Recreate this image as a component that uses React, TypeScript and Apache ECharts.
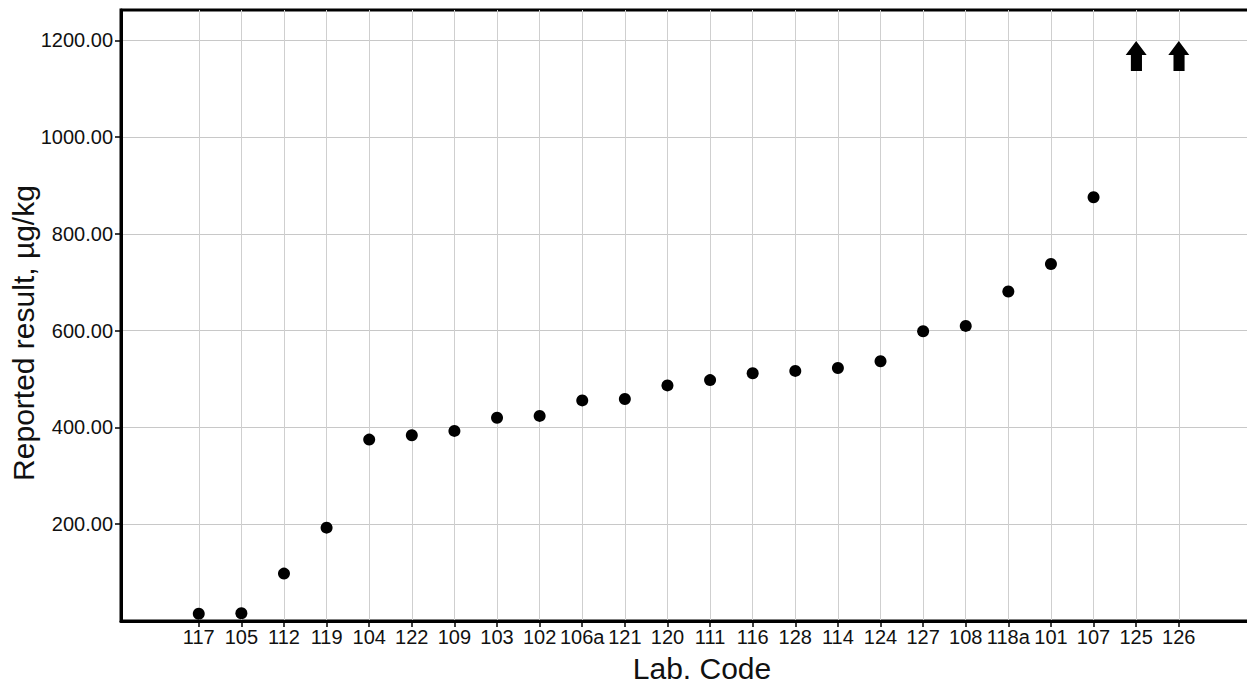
import React, { useEffect, useRef } from 'react';
import * as echarts from 'echarts';

const labCodes = ['117', '105', '112', '119', '104', '122', '109', '103', '102', '106a', '121', '120', '111', '116', '128', '114', '124', '127', '108', '118a', '101', '107', '125', '126'];
const reported: (number | null)[] = [15, 16, 98, 193, 375, 384, 393, 420, 424, 456, 459, 487, 498, 512, 517, 523, 537, 599, 610, 681, 738, 876, null, null];
const aboveRangeCodes = ['125', '126'];
const aboveRangeMarkerLevel = 1168;
const yTicks = [200, 400, 600, 800, 1000, 1200];
const yMin = 0;
const yMax = 1263;
const xMin = -1.825;
const xMax = 25;
const xTitle = 'Lab. Code';
const yTitle = 'Reported result, µg/kg';

const ARROW = 'path://M10,0 L20.5,14 L15.8,14 L15.8,30 L4.7,30 L4.7,14 L-0.5,14 Z';

export default function App() {
  const ref = useRef<HTMLDivElement>(null);
  useEffect(() => {
    if (!ref.current) return;
    const chart = echarts.init(ref.current, undefined, { renderer: 'svg' });
    const xIdx = labCodes.map((_, i) => i);
    const points = reported
      .map((v, i) => (v == null ? null : [i, v]))
      .filter((d) => d != null);
    const arrows = aboveRangeCodes.map((c) => [labCodes.indexOf(c), aboveRangeMarkerLevel]);
    const font = '"Liberation Sans", Arial, sans-serif';
    chart.setOption({
      animation: false,
      backgroundColor: '#fff',
      grid: {
        left: 121,
        right: 6,
        top: 10,
        bottom: 63,
        containLabel: false,
        outerBoundsMode: 'none',
        show: true,
        borderColor: '#000',
        borderWidth: 3,
        backgroundColor: 'transparent',
      },
      graphic: [
        {
          type: 'text',
          x: 702,
          y: 668,
          style: { text: xTitle, fontSize: 30, fontFamily: font, fill: '#111', align: 'center', verticalAlign: 'middle' },
        },
        {
          type: 'text',
          x: 23,
          y: 333,
          rotation: Math.PI / 2,
          style: { text: yTitle, fontSize: 30, fontFamily: font, fill: '#111', align: 'center', verticalAlign: 'middle' },
        },
      ],
      xAxis: {
        type: 'value',
        min: xMin,
        max: xMax,
        axisLine: { show: true, onZero: false, lineStyle: { color: '#000', width: 3 } },
        axisTick: { show: true, customValues: xIdx, length: 6, lineStyle: { color: '#000', width: 1.5 } },
        axisLabel: {
          customValues: xIdx,
          formatter: (v: number) => labCodes[Math.round(v)] ?? '',
          fontSize: 20,
          color: '#111',
          fontFamily: font,
          margin: 6,
        },
        splitLine: { show: true, lineStyle: { color: '#cfcfcf', width: 1 } },
      },
      yAxis: {
        type: 'value',
        min: yMin,
        max: yMax,
        axisLine: { show: true, onZero: false, lineStyle: { color: '#000', width: 3 } },
        axisTick: { show: true, customValues: yTicks, length: 6, lineStyle: { color: '#000', width: 1.5 } },
        axisLabel: {
          customValues: yTicks,
          formatter: (v: number) => v.toFixed(2),
          fontSize: 20,
          color: '#111',
          fontFamily: font,
          margin: 8,
        },
        splitLine: { show: true, lineStyle: { color: '#c8c8c8', width: 1 } },
      },
      series: [
        {
          type: 'scatter',
          data: points,
          symbol: 'circle',
          symbolSize: 12,
          itemStyle: { color: '#000', opacity: 1 },
        },
        {
          type: 'scatter',
          data: arrows,
          symbol: ARROW,
          symbolSize: [21, 30],
          itemStyle: { color: '#000', opacity: 1 },
        },
      ],
    });
    return () => chart.dispose();
  }, []);
  return (
    <div style={{ position: 'absolute', left: 0, top: 0, width: 1247, height: 684, overflow: 'hidden', background: '#fff' }}>
      <div ref={ref} style={{ width: 1270, height: 684 }} />
    </div>
  );
}
